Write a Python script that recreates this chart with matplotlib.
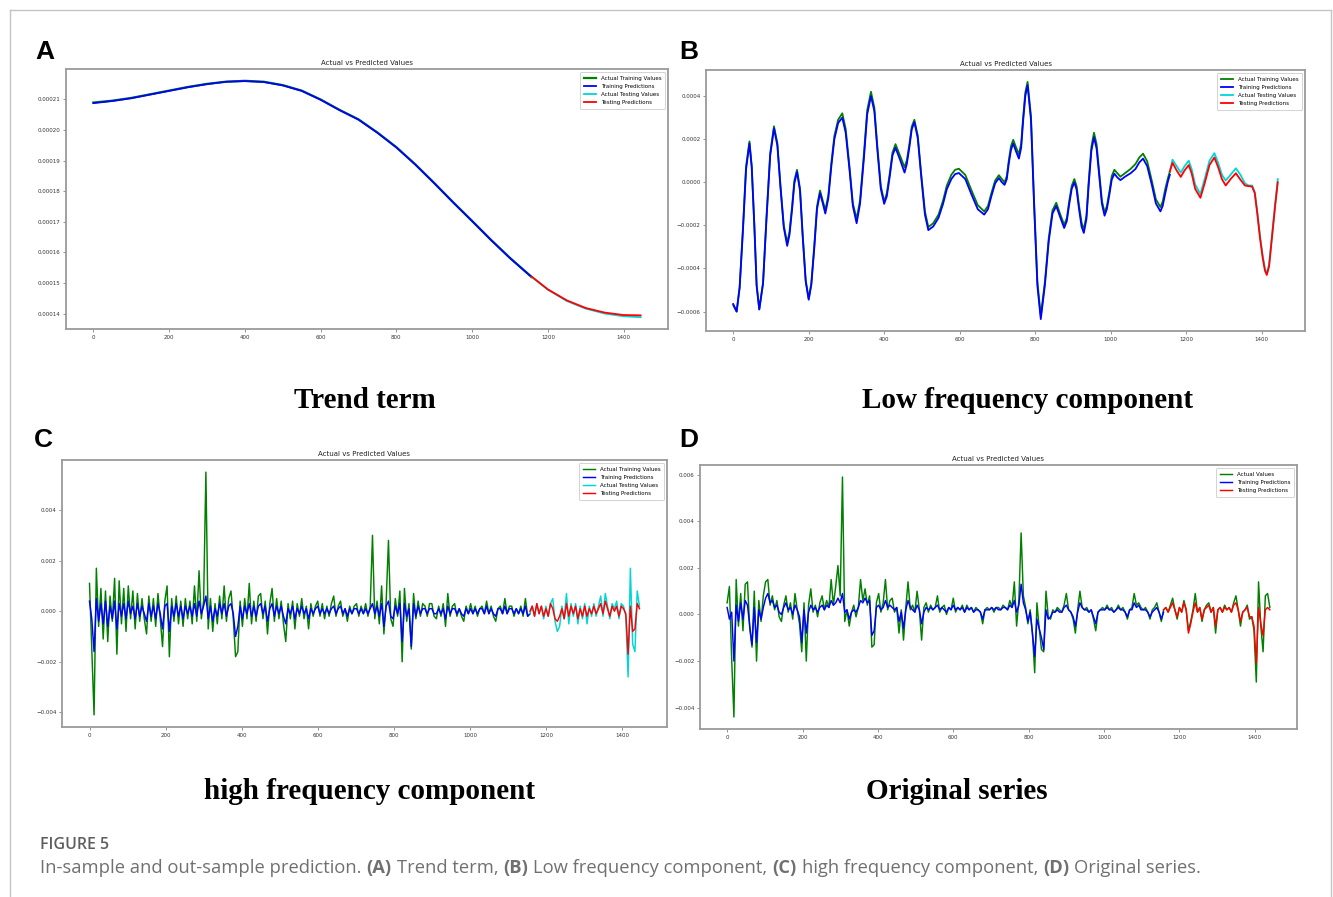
import numpy as np
import matplotlib
matplotlib.use("Agg")
import matplotlib.pyplot as plt
from matplotlib.lines import Line2D

W, H = 1333, 897

# ---------------- (A) trend term (units 1e-4) ----------------
trend_x = [0, 50, 100, 150, 200, 250, 300, 350, 400, 450, 500, 550, 600, 650, 700, 750,
           800, 850, 900, 950, 1000, 1050, 1100, 1157]
trend_actual = [2.090, 2.096, 2.105, 2.117, 2.129, 2.141, 2.151, 2.158, 2.161, 2.158, 2.147,
                2.129, 2.100, 2.066, 2.035, 1.992, 1.944, 1.888, 1.827, 1.764, 1.703, 1.641,
                1.582, 1.520]
trend_pred = [2.088, 2.095, 2.104, 2.116, 2.128, 2.140, 2.150, 2.158, 2.160, 2.157, 2.146,
              2.128, 2.099, 2.065, 2.034, 1.991, 1.943, 1.887, 1.826, 1.763, 1.702, 1.640,
              1.581, 1.519]
trend_test_x = [1157, 1200, 1250, 1300, 1350, 1400, 1445]
trend_test_actual = [1.520, 1.478, 1.441, 1.416, 1.400, 1.391, 1.388]
trend_test_pred = [1.521, 1.479, 1.443, 1.418, 1.403, 1.395, 1.394]

# ---------------- (B) low frequency component (units 1e-4) ----------------
low_x = [0, 9, 17, 26, 34, 43, 49, 56, 62, 69, 79, 88, 98, 108, 117, 125, 134, 143, 149, 156,
         162, 169, 177, 184, 192, 200, 207, 215, 222, 230, 237, 244, 252, 260, 268, 278, 289,
         298, 308, 317, 327, 336, 346, 355, 365, 374, 382, 391, 400, 407, 415, 422, 430, 442,
         454, 460, 467, 473, 480, 489, 498, 508, 517, 530, 544, 556, 566, 578, 588, 598, 615,
         631, 648, 665, 675, 684, 694, 704, 711, 719, 725, 730, 736, 742, 749, 757, 763, 768,
         774, 780, 789, 797, 806, 815, 826, 836, 846, 856, 866, 877, 884, 890, 897, 904, 910,
         916, 923, 929, 936, 942, 949, 956, 963, 970, 977, 984, 990, 997, 1003, 1010, 1018,
         1026, 1040, 1053, 1066, 1076, 1086, 1097, 1109, 1120, 1132, 1138, 1145, 1152, 1157]
low_actual = [-5.7, -6.0, -4.85, -2.05, 0.75, 1.9, 0.76, -2.0, -4.76, -5.9, -4.66, -1.65, 1.36,
              2.6, 1.81, -0.1, -2.01, -2.8, -2.31, -1.11, 0.09, 0.58, -0.29, -2.41, -4.53, -5.4,
              -4.67, -2.89, -1.11, -0.38, -0.84, -1.3, -0.6, 0.9, 2.15, 2.9, 3.2, 2.48, 0.75,
              -0.98, -1.7, -0.84, 1.25, 3.34, 4.2, 3.46, 1.65, -0.16, -0.9, -0.51, 0.44, 1.38,
              1.77, 1.24, 0.7, 1.02, 1.8, 2.58, 2.9, 2.17, 0.41, -1.35, -2.08, -1.9, -1.5, -0.85,
              -0.15, 0.35, 0.58, 0.63, 0.34, -0.36, -1.06, -1.35, -1.1, -0.51, 0.08, 0.33, 0.17,
              0.0, 0.29, 0.99, 1.68, 1.97, 1.64, 1.3, 1.79, 2.98, 4.17, 4.66, 3.07, -0.77, -4.61,
              -6.2, -4.6, -2.6, -1.3, -0.95, -1.46, -1.97, -1.66, -0.91, -0.16, 0.15, -0.19,
              -1.03, -1.86, -2.2, -1.54, 0.05, 1.64, 2.3, 1.76, 0.45, -0.86, -1.4, -1.11, -0.41,
              0.29, 0.58, 0.42, 0.26, 0.45, 0.62, 0.85, 1.15, 1.33, 0.97, 0.09, -0.79, -1.15,
              -0.9, -0.3, 0.2, 0.5]
low_pred = [-5.65, -6.0, -4.9, -2.15, 0.6, 1.8, 0.7, -2.05, -4.8, -5.9, -4.7, -1.75, 1.25, 2.5,
            1.7, -0.2, -2.1, -2.95, -2.45, -1.25, -0.05, 0.48, -0.4, -2.5, -4.6, -5.45, -4.75,
            -3.0, -1.25, -0.5, -0.95, -1.45, -0.75, 0.75, 2.0, 2.75, 3.0, 2.3, 0.6, -1.1, -1.9,
            -1.0, 1.05, 3.15, 4.0, 3.3, 1.5, -0.3, -1.0, -0.65, 0.3, 1.25, 1.6, 1.05, 0.45, 0.85,
            1.65, 2.45, 2.8, 2.05, 0.3, -1.5, -2.22, -2.05, -1.65, -1.0, -0.32, 0.15, 0.38, 0.43,
            0.15, -0.55, -1.25, -1.5, -1.25, -0.65, -0.05, 0.2, 0.02, -0.12, 0.15, 0.85, 1.5, 1.8,
            1.45, 1.1, 1.6, 2.8, 4.0, 4.5, 2.9, -0.95, -4.8, -6.35, -4.75, -2.75, -1.45, -1.1,
            -1.6, -2.12, -1.8, -1.05, -0.3, 0.0, -0.35, -1.2, -2.05, -2.35, -1.7, -0.1, 1.45, 2.1,
            1.55, 0.25, -1.0, -1.55, -1.25, -0.55, 0.12, 0.4, 0.22, 0.1, 0.28, 0.42, 0.62, 0.92,
            1.1, 0.75, -0.1, -0.98, -1.35, -1.1, -0.5, 0.05, 0.35]
low_test_x = [1157, 1164, 1175, 1186, 1196, 1207, 1215, 1224, 1238, 1250, 1262, 1275, 1285,
              1295, 1305, 1318, 1332, 1344, 1356, 1366, 1375, 1382, 1389, 1396, 1403, 1409,
              1414, 1420, 1428, 1436, 1443]
low_test_actual = [0.5, 1.05, 0.75, 0.45, 0.75, 1.0, 0.6, -0.1, -0.55, 0.2, 1.0, 1.35, 0.9,
                   0.35, 0.08, 0.35, 0.65, 0.35, -0.05, -0.15, -0.15, -0.45, -1.4, -2.5, -3.4,
                   -4.0, -4.23, -3.8, -2.4, -1.0, 0.15]
low_test_pred = [0.5, 0.9, 0.55, 0.25, 0.55, 0.8, 0.4, -0.3, -0.72, 0.0, 0.8, 1.15, 0.7, 0.15,
                 -0.15, 0.15, 0.42, 0.12, -0.15, -0.18, -0.2, -0.5, -1.5, -2.6, -3.5, -4.1,
                 -4.3, -3.9, -2.5, -1.1, 0.0]

# ---------------- (C) high frequency component (units 1e-4, one value every 6 steps) ----------------
STEP = 6
TEST_START = 1158
hf_train_actual = [
    11, -15, -41, 17, -6, 9, -11, 8, -12, 6, -4, 13, -17, 12, -5, 9, -8, 10, -3, 8,
    -7, 7, -4, 5, -3, -9, 6, -4, 5, -6, 7, -3, -14, 4, 10, -18, 5, -4, 6, -5,
    4, -6, 5, -3, 4, -5, 10, -4, 16, -3, 4, 55, -7, 5, -8, 3, -5, 6, -3, 10,
    -4, 5, 8, -3, -18, -16, 4, -6, 5, -3, 11, -5, 4, -4, 6, 7, -3, 4, -9, 3,
    9, -4, 5, -3, 4, -5, -12, 3, -3, 4, -7, 3, -2, 5, -3, 2, -7, 3, -2, 2,
    4, -2, 3, -3, 2, -2, 3, 6, -2, 2, 4, -2, 1, -4, 2, -1, 2, 3, -2, 2,
    -1, 3, -2, 2, 30, -3, 4, -5, 10, -9, 4, 28, -3, -6, 5, -2, 8, -20, 9, -4,
    3, -15, 7, -3, 4, -2, 3, 2, -2, 3, 3, -2, -3, 2, -2, 3, -6, 7, -2, 2,
    3, -2, 1, -2, -4, 2, -1, 3, -1, 2, -2, 1, 2, -1, 4, -1, 2, -2, -4, 1,
    2, -1, 5, -1, 2, 2, -2, 1, -1, 2, -2, 5, -2, -1]
hf_train_pred = [
    4, -3, -16, 5, -4, 3, -5, 4, -6, 2, -3, 4, -7, 3, -2, 3, -3, 4, -1, 2,
    -3, 3, -2, 2, -1, -4, 3, -2, 2, -3, 3, -1, -7, 2, 3, -8, 2, -2, 3, -2,
    2, -3, 2, -1, 2, -2, 3, -2, 4, -1, 2, 6, -3, 2, -4, 1, -2, 3, -1, 3,
    -2, 2, 3, -1, -10, -6, 2, -3, 2, -1, 3, -2, 2, -2, 2, 3, -1, 2, -4, 1,
    3, -2, 2, -1, 2, -2, -5, 1, -1, 2, -3, 1, -1, 2, -1, 1, -3, 1, -1, 1,
    2, -1, 1, -1, 1, -1, 1, 2, -1, 1, 2, -1, 1, -2, 1, -1, 1, 1, -1, 1,
    -1, 1, -1, 1, 3, -1, 2, -2, 3, -6, 2, 4, -2, -3, 2, -1, 3, -12, 3, -2,
    1, -14, 3, -2, 2, -1, 1, 1, -1, 1, 1, -1, -1, 1, -1, 1, -3, 2, -1, 1,
    1, -1, 1, -1, -2, 1, -1, 1, -1, 1, -1, 1, 1, -1, 2, -1, 1, -1, -2, 1,
    1, -1, 2, -1, 1, 1, -1, 1, -1, 1, -1, 2, -2, -1]
hf_test_actual = [
    -1, 2, -2, 3, -1, 2, -3, 2, -2, 3, 5, -4, -8, -6, 2, -3, 7, -5, 3, -2,
    3, -5, 2, -3, 3, -5, 2, -2, 3, -2, 2, 6, -2, 7, 2, -3, 3, 1, 4, -3,
    3, 2, -2, -26, 17, -13, -16, 8, 2]
hf_test_pred = [
    0, 2, -2, 3, -1, 2, -2, 1, -2, 3, 1, -3, -4, -2, 1, -3, 3, -2, 2, -1,
    2, -3, 1, -2, 2, -2, 1, -1, 2, -1, 1, 3, -1, 4, 1, -2, 2, 0, 2, -2,
    2, 1, -1, -17, 2, -8, -7, 3, 1]

# ---------------- (D) original series (units 1e-4, one value every 6 steps) ----------------
orig_actual = [
    5, 12, -19, -44, 15, -5, 9, -7, 13, 14, -6, -14, 10, -20, 6, -3, 8, 14, 15, 4,
    8, 2, 6, -1, -3, 4, 8, 1, 5, -2, 9, 2, -4, -16, 5, -20, 4, 11, 1, 4,
    -1, 5, 8, 2, 6, 3, 15, 4, 12, 21, 8, 59, -3, 2, -5, 1, 4, -1, 3, 15,
    6, 11, 4, 8, -14, -13, 5, 9, 1, 5, 15, 2, 6, 7, 1, 3, -8, 2, -11, 3,
    14, 2, 4, 1, 10, 2, -11, 3, 5, 1, 4, 2, 3, 8, 1, 3, 4, 0, 3, 2,
    7, 1, 3, 2, 4, 1, 4, 2, 3, 1, 3, 2, 1, -4, 2, 3, 2, 3, 1, 3,
    3, 2, 4, 3, 2, 6, 3, 14, -5, 6, 35, 8, 3, -4, 2, -8, -25, 5, -6, -15,
    -16, 10, -1, -2, 2, 1, 3, 2, 1, 4, 9, 2, 1, -2, -8, 2, 10, 3, 2, 3,
    1, 2, -2, -7, 1, 2, 3, 2, 4, 2, 3, 1, 2, 4, 2, 3, 1, -2, 2, 3,
    9, 4, 5, 3, 2, 3, 1, -2, 2, 3, 5, 1, -3, 2, 3, 1, 4, 7, 2, -2,
    3, 1, 6, 2, -7, -3, 2, 9, 1, 3, -3, 2, 4, 5, 1, 3, -8, 2, 3, 1,
    4, 2, 3, 1, 5, 8, 2, -5, 1, 2, 4, -2, -1, -7, -29, 14, -5, -16, 8, 9, 3]
orig_train_pred = [
    3, -2, 1, -20, 4, -3, 5, -2, 6, 4, -5, -13, 3, -12, 2, -2, 3, 7, 9, 5,
    6, 3, 4, 1, 0, 3, 5, 2, 3, 0, 4, 2, -1, -12, 2, -8, 1, 4, 2, 3,
    1, 3, 4, 2, 4, 3, 6, 4, 5, 7, 5, 9, 1, 2, -2, 1, 2, 1, 3, 6,
    5, 7, 5, 6, -9, -7, 3, 4, 2, 3, 6, 3, 4, 3, 2, 3, -3, 1, -6, 2,
    6, 3, 2, 1, 4, 2, -4, 1, 3, 2, 3, 2, 3, 4, 2, 3, 2, 1, 3, 2,
    4, 2, 3, 2, 3, 1, 3, 2, 3, 1, 2, 2, 1, -2, 2, 2, 2, 3, 2, 3,
    2, 2, 3, 3, 2, 4, 3, 6, 1, 4, 13, 5, 2, -3, 1, -8, -18, -2, -6, -10,
    -15, 2, -2, -1, 1, 1, 2, 1, 1, 3, 4, 2, 1, -1, -5, 1, 5, 3, 2, 2,
    1, 2, -1, -4, 1, 2, 2, 2, 3, 2, 2, 1, 2, 3, 2, 2, 1, -1, 2, 2,
    5, 3, 4, 2, 2, 2, 1, -1, 1, 2, 3, 1, -2, 1]
orig_test_pred = [
    2, 3, 1, 3, 5, 2, -1, 3, 1, 5, 2, -8, -4, 1, 5, 1, 3, -2, 2, 3,
    4, 1, 3, -5, 2, 3, 1, 3, 2, 3, 1, 4, 5, 2, -3, 1, 2, 3, -1, -1,
    -5, -21, 3, -4, -9, 2, 3, 2]

# ---------------- figure ----------------
fig = plt.figure(figsize=(W / 100, H / 100), dpi=100)


def box(l, t, r, b):
    return [l / W, 1 - b / H, (r - l) / W, (b - t) / H]


C_GREEN, C_BLUE, C_CYAN, C_RED = "green", "blue", "#00d6d6", "red"


def style(ax, yticks):
    ax.set_title("Actual vs Predicted Values", fontsize=5, pad=3, color="#222222")
    for s in ax.spines.values():
        s.set_edgecolor("#9a9a9a")
        s.set_linewidth(1.3)
    ax.set_xticks([0, 200, 400, 600, 800, 1000, 1200, 1400])
    ax.set_yticks(yticks)
    ax.tick_params(labelsize=4, length=2, width=0.5, color="#666666", labelcolor="#333333", pad=2)
    leg = ax.legend(loc="upper right", fontsize=4, handlelength=2.2, borderpad=0.7,
                    labelspacing=0.55, framealpha=1, fancybox=True)
    leg.get_frame().set_edgecolor("#cccccc")
    leg.get_frame().set_linewidth(0.6)


# A
axA = fig.add_axes(box(66, 69, 668, 329))
axA.plot(trend_x, np.array(trend_actual) * 1e-4, color=C_GREEN, lw=1.6, label="Actual Training Values")
axA.plot(trend_x, np.array(trend_pred) * 1e-4, color=C_BLUE, lw=1.3, label="Training Predictions")
axA.plot(trend_test_x, np.array(trend_test_actual) * 1e-4, color=C_CYAN, lw=1.3, label="Actual Testing Values")
axA.plot(trend_test_x, np.array(trend_test_pred) * 1e-4, color=C_RED, lw=1.3, label="Testing Predictions")
style(axA, [0.00014, 0.00015, 0.00016, 0.00017, 0.00018, 0.00019, 0.00020, 0.00021])

# B
axB = fig.add_axes(box(706, 70, 1305, 331))
axB.plot(low_x, np.array(low_actual) * 1e-4, color=C_GREEN, lw=1.3, label="Actual Training Values")
axB.plot(low_x, np.array(low_pred) * 1e-4, color=C_BLUE, lw=1.3, label="Training Predictions")
axB.plot(low_test_x, np.array(low_test_actual) * 1e-4, color=C_CYAN, lw=1.3, label="Actual Testing Values")
axB.plot(low_test_x, np.array(low_test_pred) * 1e-4, color=C_RED, lw=1.3, label="Testing Predictions")
style(axB, [-0.0006, -0.0004, -0.0002, 0.0, 0.0002, 0.0004])

# C
x_tr = np.arange(len(hf_train_actual)) * STEP
x_te = TEST_START + np.arange(len(hf_test_actual)) * STEP
axC = fig.add_axes(box(62, 460, 667, 727))
axC.plot(x_tr, np.array(hf_train_actual) * 1e-4, color=C_GREEN, lw=1.05, label="Actual Training Values")
axC.plot(x_tr, np.array(hf_train_pred) * 1e-4, color=C_BLUE, lw=1.05, label="Training Predictions")
axC.plot(x_te, np.array(hf_test_actual) * 1e-4, color=C_CYAN, lw=1.05, label="Actual Testing Values")
axC.plot(x_te, np.array(hf_test_pred) * 1e-4, color=C_RED, lw=1.05, label="Testing Predictions")
style(axC, [-0.004, -0.002, 0.0, 0.002, 0.004])

# D
x_all = np.arange(len(orig_actual)) * STEP
x_trd = np.arange(len(orig_train_pred)) * STEP
x_ted = TEST_START + np.arange(len(orig_test_pred)) * STEP
axD = fig.add_axes(box(700, 465, 1297, 729))
axD.plot(x_all, np.array(orig_actual) * 1e-4, color=C_GREEN, lw=1.05, label="Actual Values")
axD.plot(x_trd, np.array(orig_train_pred) * 1e-4, color=C_BLUE, lw=1.05, label="Training Predictions")
axD.plot(x_ted, np.array(orig_test_pred) * 1e-4, color=C_RED, lw=1.05, label="Testing Predictions")
style(axD, [-0.004, -0.002, 0.0, 0.002, 0.004, 0.006])

# panel letters and sub-captions
for letter, px, py in [("A", 45, 52), ("B", 689, 52), ("C", 43, 440), ("D", 689, 440)]:
    fig.text(px / W, 1 - py / H, letter, fontsize=19, fontweight="bold",
             family="Liberation Sans", ha="center", va="center")
for label, px, py in [("Trend term", 365, 400), ("Low frequency component", 1028, 400),
                      ("high frequency component", 369, 791), ("Original series", 957, 791)]:
    fig.text(px / W, 1 - py / H, label, fontsize=21, fontweight="bold",
             family="Liberation Serif", ha="center", va="center")

# outer frame
for xs, ys in [((10, 1331), (10, 10)), ((10, 10), (10, 897)), ((1331, 1331), (10, 897))]:
    fig.add_artist(Line2D([x / W for x in xs], [1 - y / H for y in ys], color="#c4c4c4", lw=1))

# figure caption
fig.text(40 / W, 1 - 845 / H, "FIGURE 5", fontsize=11.5, fontweight="semibold",
         family="Open Sans", color="#5e5e5e", ha="left", va="center")
pieces = [("In-sample and out-sample prediction.", "normal"), ("(A)", "bold"),
          ("Trend term,", "normal"), ("(B)", "bold"), ("Low frequency component,", "normal"),
          ("(C)", "bold"), ("high frequency component,", "normal"), ("(D)", "bold"),
          ("Original series.", "normal")]
prev = fig.text(40 / W, 1 - 868 / H, pieces[0][0], fontsize=13.2, family="Open Sans",
                color="#707070", ha="left", va="center")
for txt, wt in pieces[1:]:
    prev = plt.annotate(txt, xy=(1, 0), xycoords=prev, xytext=(3.6, 0),
                        textcoords="offset points", fontsize=13.2, family="Open Sans",
                        fontweight=wt, color="#707070", ha="left", va="bottom",
                        annotation_clip=False)

fig.savefig("out.png", dpi=100)
